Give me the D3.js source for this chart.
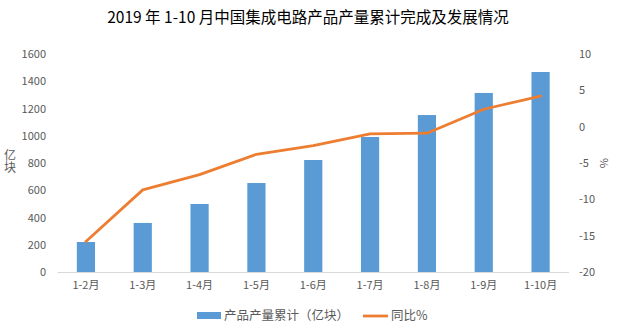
<!DOCTYPE html>
<html><head><meta charset="utf-8">
<script src="https://cdn.jsdelivr.net/npm/d3@7"></script>
<style>body{margin:0;background:#fff}svg{display:block}text{font-family:"Noto Sans CJK SC","Microsoft YaHei",sans-serif}</style>
</head><body>
<script>
const categories = ["1-2月","1-3月","1-4月","1-5月","1-6月","1-7月","1-8月","1-9月","1-10月"];
const output = [220, 360, 499, 653, 822, 991, 1152, 1314, 1468];
const growth = [-15.8, -8.7, -6.6, -3.8, -2.6, -1.0, -0.9, 2.4, 4.2];
const leftTicks = [0, 200, 400, 600, 800, 1000, 1200, 1400, 1600];
const rightTicks = [-20, -15, -10, -5, 0, 5, 10];
const title = "2019 年 1-10 月中国集成电路产品产量累计完成及发展情况";
const seriesNames = ["产品产量累计（亿块）", "同比%"];

const W = 618, H = 330;
const svg = d3.select("body").append("svg").attr("width", W).attr("height", H);
const x = d3.scaleBand().domain(categories).range([57.5, 569]).paddingInner(0.68).paddingOuter(0.34);
const yL = d3.scaleLinear().domain([0, 1600]).range([272, 54]);
const yR = d3.scaleLinear().domain([-20, 10]).range([272, 54]);
const tickColor = "#595959";
const fmt = d => String(d);

svg.append("text").attr("x", 308).attr("y", 23).attr("text-anchor", "middle")
  .attr("font-size", 15.5).attr("fill", "#000").text(title);

// baseline
svg.append("line").attr("x1", 57.5).attr("x2", 569).attr("y1", 272.5).attr("y2", 272.5)
  .attr("stroke", "#d9d9d9").attr("stroke-width", 1);

// left ticks
const gl = svg.append("g").attr("transform", "translate(46,0)")
  .call(d3.axisLeft(yL).tickValues(leftTicks).tickFormat(fmt).tickSize(0).tickPadding(0));
gl.select(".domain").remove();
gl.selectAll("text").attr("font-size", 11).attr("fill", tickColor).style("font-family", "'Noto Sans CJK SC',sans-serif");

// right ticks
const gr = svg.append("g").attr("transform", "translate(579,0)")
  .call(d3.axisRight(yR).tickValues(rightTicks).tickFormat(fmt).tickSize(0).tickPadding(0));
gr.select(".domain").remove();
gr.selectAll("text").attr("font-size", 11).attr("fill", tickColor).style("font-family", "'Noto Sans CJK SC',sans-serif");

// x ticks
const gx = svg.append("g").attr("transform", "translate(0,281)")
  .call(d3.axisBottom(x).tickSize(0).tickPadding(0));
gx.select(".domain").remove();
gx.selectAll("text").attr("font-size", 11).attr("fill", tickColor).attr("dy", "0.71em").style("font-family", "'Noto Sans CJK SC',sans-serif");

// axis titles
svg.append("text").attr("x", 10).attr("y", 161).attr("text-anchor", "middle")
  .style("writing-mode", "vertical-rl").style("text-orientation", "upright")
  .attr("font-size", 12).attr("fill", tickColor).text("亿块");
svg.append("text").attr("transform", "translate(604,163) rotate(90)").attr("text-anchor", "middle").attr("dy", "0.35em")
  .attr("font-size", 11).attr("fill", tickColor).text("%");

// bars
svg.append("g").selectAll("rect").data(output).join("rect")
  .attr("x", (d, i) => x(categories[i])).attr("width", x.bandwidth())
  .attr("y", d => yL(d)).attr("height", d => yL(0) - yL(d)).attr("fill", "#5B9BD5");

// line
const line = d3.line().x((d, i) => x(categories[i]) + x.bandwidth() / 2).y(d => yR(d));
svg.append("path").datum(growth).attr("d", line).attr("fill", "none")
  .attr("stroke", "#ED7D31").attr("stroke-width", 2.75).attr("stroke-linejoin", "round").attr("stroke-linecap", "round");

// legend
svg.append("rect").attr("x", 197).attr("y", 312).attr("width", 24).attr("height", 7).attr("fill", "#5B9BD5");
svg.append("text").attr("x", 224).attr("y", 316).attr("dy", "0.35em").attr("font-size", 12.5).attr("fill", tickColor).text(seriesNames[0]);
svg.append("line").attr("x1", 363).attr("x2", 388).attr("y1", 316).attr("y2", 316).attr("stroke", "#ED7D31").attr("stroke-width", 2.75);
svg.append("text").attr("x", 391).attr("y", 316).attr("dy", "0.35em").attr("font-size", 12.5).attr("fill", tickColor).text(seriesNames[1]);
</script>
</body></html>
